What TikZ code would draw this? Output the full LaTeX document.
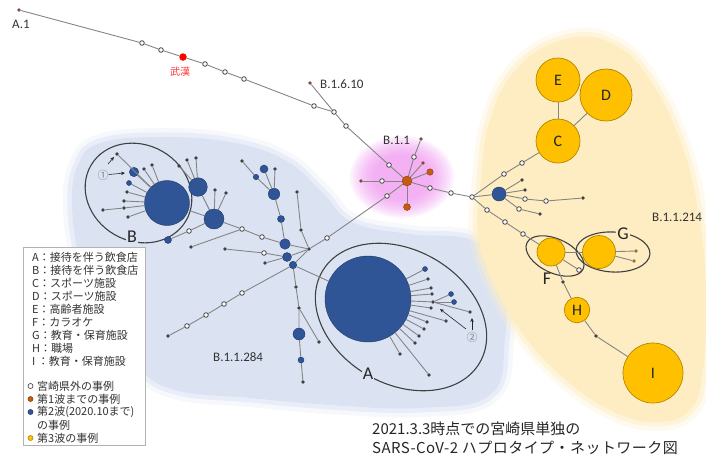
\documentclass[tikz,border=0pt]{standalone}
\usepackage{fontspec}
\setmainfont{Carlito}
\newfontfamily\jpf{Noto Sans CJK JP}
\newfontfamily\latf{Carlito}
\usetikzlibrary{arrows.meta}
\definecolor{navy}{HTML}{2F5597}
\definecolor{navyd}{HTML}{203864}
\definecolor{gold}{HTML}{FFC000}
\definecolor{goldd}{HTML}{B08600}
\definecolor{rust}{HTML}{C55A11}
\definecolor{edgec}{HTML}{858585}
\definecolor{dotc}{HTML}{404040}
\definecolor{brownc}{HTML}{7A4F3F}
\definecolor{oliv}{HTML}{857540}
\definecolor{bblob}{HTML}{DBE3F3}
\definecolor{yblob}{HTML}{FEEDC2}
\definecolor{pblob}{HTML}{EE8CEE}
\definecolor{labc}{HTML}{333333}
\tikzset{
 lnk/.style={draw=edgec, line width=0.9pt},
 sdot/.style={circle, fill=dotc, inner sep=0, minimum size=3.6pt},
 brdot/.style={circle, fill=brownc, inner sep=0, minimum size=3.8pt},
 oldot/.style={circle, fill=oliv, inner sep=0, minimum size=3.6pt},
 wdot/.style={circle, draw=dotc, fill=white, line width=0.8pt, inner sep=0, minimum size=4.6pt},
 bdot/.style={circle, fill=navy, draw=navyd, line width=0.4pt, inner sep=0, minimum size=#1},
 ordot/.style={circle, fill=rust, draw=rust!70!black, line width=0.4pt, inner sep=0, minimum size=#1},
 ydot/.style={circle, fill=gold, draw=goldd, line width=0.7pt, inner sep=0, minimum size=#1, font=\latf\fontsize{16}{16}\selectfont, text=black!85},
 grploop/.style={draw=black!75, line width=1.1pt},
 grplab/.style={font=\latf\fontsize{18}{20}\selectfont, text=black!85, inner sep=1pt},
 linlab/.style={font=\latf\fontsize{13}{15}\selectfont, text=labc, inner sep=0},
 legt/.style={font=\jpf\fontsize{11}{13}\selectfont, text=black!80, anchor=west, inner sep=0},
 capt/.style={font=\jpf\fontsize{15}{19}\selectfont, text=black!85, anchor=west, inner sep=0},
 legm/.style={circle, inner sep=0, minimum size=5pt, line width=0.6pt},
 pointer/.style={-{Stealth[length=4pt,width=3.5pt]}, draw=black!85, line width=0.6pt},
 circnum/.style={font=\jpf\fontsize{11}{11}\selectfont, text=black!50, inner sep=0},
}
\begin{document}
\begin{tikzpicture}[x=1pt,y=-1pt]
\useasboundingbox (0,0) rectangle (706,456);
% ---------- background blobs ----------
\fill[bblob, preaction={draw=bblob, line width=18pt, opacity=.25, line join=round},
 preaction={draw=bblob, line width=9pt, opacity=.5, line join=round}]
 plot[smooth cycle, tension=0.7] coordinates {(78,165) (100,143) (160,137) (230,142) (285,160) (322,192) (352,222) (410,234) (472,240) (503,272) (505,340) (490,395) (420,408) (330,405) (250,398) (175,390) (135,365) (100,320) (80,262) (72,205)};
\fill[yblob, preaction={draw=yblob, line width=18pt, opacity=.25, line join=round},
 preaction={draw=yblob, line width=9pt, opacity=.5, line join=round}]
 plot[smooth cycle, tension=0.7] coordinates {(480,190) (490,120) (520,65) (570,38) (615,45) (650,80) (680,140) (698,210) (706,290) (703,370) (690,410) (655,422) (610,410) (560,375) (520,330) (492,280) (478,235)};
\foreach \s in {1,0.95,0.9,0.85,0.8,0.75,0.7,0.65,0.6,0.55}
 \fill[pblob, opacity=0.11] (402,177) ellipse ({\s*52pt} and {\s*41pt});
% ---------- group loops ----------
\draw[grploop, rotate around={-30:(138.5,193)}] (138.5,193) ellipse (55pt and 48pt);
\draw[grploop, rotate around={-30:(401,317)}] (401,317) ellipse (91pt and 67pt);
\draw[grploop, rotate around={-25:(555,256)}] (555,256) ellipse (31pt and 17pt);
\draw[grploop, rotate around={-3:(613,252)}] (613,252) ellipse (37pt and 20pt);
% ---------- trunk ----------
\node[brdot] (a1) at (19,10) {};
\node[wdot] (m1) at (142,43) {};
\node[wdot] (m2) at (161,50) {};
\node[circle, fill=red, inner sep=0, minimum size=7.5pt] (wuhan) at (183,57) {};
\node[wdot] (m3) at (205,64) {};
\node[wdot] (m4) at (225,72) {};
\node[wdot] (m5) at (244,79) {};
\node[wdot] (m6) at (314,106) {};
\node[wdot] (j1) at (334,112) {};
\node[brdot] (b1610) at (310,83) {};
\node[wdot] (m7) at (346,126) {};
\node[wdot] (m8) at (389,165) {};
% ---------- B.1.1 hub ----------
\node[ordot=10pt] (hub) at (407,181) {};
\node[brdot] (s1) at (421,139) {};
\node[wdot] (s2) at (414,157) {};
\node[brdot] (s3) at (423,163) {};
\node[ordot=6.5pt] (s4) at (430,172) {};
\node[wdot] (s5) at (382,181) {};
\node[brdot] (s6) at (361,181) {};
\node[ordot=7pt] (s7) at (407,207) {};
\node[wdot] (p2) at (387,196) {};
\node[wdot] (p1) at (327,238) {};
\node[wdot] (hr1) at (430,188) {};
\node[wdot] (hr2) at (451,193) {};
\node[wdot] (j2) at (472,197) {};
% ---------- B.1.1.214 ----------
\node[wdot] (u1) at (504,174) {};
\node[wdot] (u2) at (522,163) {};
\node[ydot=44pt] (C) at (558,141) {C};
\node[ydot=44pt] (E) at (558,80) {E};
\node[ydot=52pt] (D) at (606,95) {D};
\node[bdot=14pt] (bY) at (499,194) {};
\node[sdot] (y1) at (522,180) {};
\node[sdot] (y2) at (525,190) {};
\node[wdot] (y3) at (525,199) {};
\node[wdot] (y4) at (546,201) {};
\node[sdot] (y5) at (583,198) {};
\node[wdot] (y6) at (519,209) {};
\node[sdot] (y7) at (540,214) {};
\node[wdot] (d1) at (487,210) {};
\node[wdot] (d2) at (505,222) {};
\node[wdot] (d3) at (523,234) {};
\node[ydot=28pt] (F) at (551,252) {};
\node[ydot=33pt] (G) at (599,252) {};
\node[oldot] (g1) at (636,251) {};
\node[oldot] (g2) at (634,261) {};
\node[wdot] (f2) at (579,270) {};
\node[sdot] (f1) at (563,282) {};
\node[ydot=25.5pt] (H) at (577,310) {H};
\node[sdot] (hi) at (596,336) {};
\node[ydot=60pt] (I) at (653,373) {I};
% ---------- B.1.1.284 ----------
\node[sdot] (jB) at (309,249) {};
\node[bdot=10.5pt] (n1) at (285,244) {};
\node[bdot=9pt] (n2) at (287,257) {};
\node[bdot=7.5pt] (n3) at (293,265) {};
\node[sdot] (q1) at (301,230) {};
\node[sdot] (q2) at (297,192) {};
\node[bdot=7pt] (c1) at (281,219) {};
\node[bdot=11.5pt] (c2) at (274,194) {};
\node[bdot=5.5pt] (c3) at (256,177) {};
\node[sdot] (c4) at (242,161) {};
\node[bdot=8pt] (c5) at (264,169) {};
\node[sdot] (c6) at (275,169) {};
\node[wdot] (r1) at (262,237) {};
\node[wdot] (r2) at (242,229) {};
\node[sdot] (r3) at (191,247) {};
\node[wdot] (t1) at (264,253) {};
\node[sdot] (t2) at (225,249) {};
\node[sdot] (t3) at (265,263) {};
\node[wdot] (w1) at (242,293) {};
\node[wdot] (w2) at (224,304) {};
\node[wdot] (w3) at (206,315) {};
\node[wdot] (w4) at (187,326) {};
\node[sdot] (w5) at (168,336) {};
\node[sdot] (v1) at (296,287) {};
\node[sdot] (v2) at (299,308) {};
\node[bdot=12pt] (v3) at (299,334) {};
\node[bdot=6pt] (v4) at (301,360) {};
\node[sdot] (v5) at (303,382) {};
\node[sdot] (v6) at (319,342) {};
% B cluster
\node[bdot=45pt] (B) at (167,203) {};
\node[bdot=18.6pt] (B2) at (198,187) {};
\node[bdot=20pt] (B3) at (214,219) {};
\node[sdot] (k1) at (179,166) {};
\node[sdot] (k2) at (187,160) {};
\node[sdot] (k3) at (196,158) {};
\node[sdot] (k4) at (215,190) {};
\node[sdot] (k5) at (226,193) {};
\node[wdot] (k6) at (189,231) {};
\node[bdot=7pt] (k7) at (168,240) {};
\node[sdot] (e1) at (117,154) {};
\node[bdot=9.4pt] (e2) at (134,172) {};
\node[bdot=5pt] (e3) at (129,183) {};
\node[sdot] (e4) at (144,169) {};
\node[sdot] (e5) at (152,165) {};
\node[sdot] (e6) at (127,192) {};
\node[sdot] (e7) at (124,201) {};
\node[sdot] (e8) at (124,208) {};
\node[sdot] (e9) at (103,210) {};
\node[sdot] (e10) at (128,217) {};
% A cluster
\node[bdot=86pt] (A) at (368,299) {};
\node[bdot=5pt] (aa1) at (425,269) {};
\node[sdot] (aa2) at (428,279) {};
\node[sdot] (aa3) at (431,288) {};
\node[sdot] (aa4) at (432,294) {};
\node[sdot] (aa5) at (433,302) {};
\node[bdot=5pt] (aa5b) at (451,294) {};
\node[bdot=5pt] (aa5c) at (454,302) {};
\node[sdot] (aa5d) at (470,312) {};
\node[sdot] (aa6) at (431,308) {};
\node[sdot] (aa7) at (446,321) {};
\node[sdot] (aa8) at (427,322) {};
\node[sdot] (aa9) at (424,329) {};
\node[sdot] (aa10) at (419,336) {};
\node[sdot] (aa11) at (415,343) {};
\node[sdot] (aa12) at (400,354) {};
\node[sdot] (aa13) at (429,375) {};
% ---------- connectors ----------
\draw[lnk] (a1) -- (m1) -- (m2) -- (wuhan) -- (m3) -- (m4) -- (m5) -- (m6) -- (j1);
\draw[lnk] (b1610) -- (j1);
\draw[lnk] (j1) -- (m7) -- (m8) -- (hub);
\draw[lnk] (hub) -- (s2) -- (s1);
\draw[lnk] (hub) -- (s3);
\draw[lnk] (hub) -- (s4);
\draw[lnk] (hub) -- (s5) -- (s6);
\draw[lnk] (hub) -- (s7);
\draw[lnk] (hub) -- (p2) -- (p1) -- (jB);
\draw[lnk] (hub) -- (hr1) -- (hr2) -- (j2);
\draw[lnk] (j2) -- (u1) -- (u2) -- (C);
\draw[lnk] (C) -- (E);
\draw[lnk] (C) -- (D);
\draw[lnk] (j2) -- (bY);
\draw[lnk] (bY) -- (y1);
\draw[lnk] (bY) -- (y2);
\draw[lnk] (bY) -- (y3) -- (y4) -- (y5);
\draw[lnk] (bY) -- (y6) -- (y7);
\draw[lnk] (j2) -- (d1) -- (d2) -- (d3) -- (F);
\draw[lnk] (F) -- (G);
\draw[lnk] (G) -- (g1);
\draw[lnk] (G) -- (g2);
\draw[lnk] (F) -- (f2);
\draw[lnk] (F) -- (f1) -- (H) -- (hi) -- (I);
\draw[lnk] (jB) -- (n1);
\draw[lnk] (jB) -- (n2);
\draw[lnk] (jB) -- (n3);
\draw[lnk] (jB) -- (q1) -- (q2);
\draw[lnk] (n1) -- (c1) -- (c2) -- (c3) -- (c4);
\draw[lnk] (c2) -- (c5);
\draw[lnk] (c2) -- (c6);
\draw[lnk] (n1) -- (r1) -- (r2) -- (B3);
\draw[lnk] (r2) -- (r3);
\draw[lnk] (n2) -- (t1) -- (t2);
\draw[lnk] (n2) -- (t3);
\draw[lnk] (n3) -- (w1) -- (w2) -- (w3) -- (w4) -- (w5);
\draw[lnk] (n3) -- (v1) -- (v2) -- (v3) -- (v4) -- (v5);
\draw[lnk] (v2) -- (v6);
\draw[lnk] (n3) -- (A);
\draw[lnk] (B) -- (B3);
\draw[lnk] (B2) -- (B3);
\foreach \k in {k1,k2,k3} \draw[lnk] (B2) -- (\k);
\draw[lnk] (B3) -- (k4);
\draw[lnk] (B3) -- (k5);
\draw[lnk] (B3) -- (k6) -- (k7);
\foreach \k in {e1,e2,e3,e4,e5,e6,e7,e8,e10} \draw[lnk] (B) -- (\k);
\draw[lnk] (e8) -- (e9);
\foreach \k in {aa1,aa2,aa3,aa4,aa5,aa6,aa7,aa8,aa9,aa10,aa11,aa12,aa13} \draw[lnk] (A) -- (\k);
\draw[lnk] (aa5) -- (aa5b);
\draw[lnk] (aa5) -- (aa5c);
\draw[lnk] (aa5) -- (aa5d);
% ---------- pointers ----------
\node[circnum] (one) at (103,175) {①};
\coordinate (one1) at (125,173);
\coordinate (one2a) at (108,164);
\coordinate (one2b) at (114,157);
\draw[pointer] (one) -- (one1);
\draw[pointer] (one2a) -- (one2b);
\node[circnum] (two) at (472,337) {②};
\coordinate (two1) at (440,309);
\coordinate (two2a) at (472,330);
\coordinate (two2b) at (472,318);
\coordinate (two1a) at (466,329);
\draw[pointer] (two1a) -- (two1);
\draw[pointer] (two2a) -- (two2b);
% ---------- labels ----------
\node[font=\jpf\fontsize{10}{10}\selectfont, text=red!80, inner sep=0] (wlab) at (180,72) {武漢};
\node[linlab, anchor=west] (la1) at (12,24) {A.1};
\node[linlab, anchor=west] (lb1610) at (320,84) {B.1.6.10};
\node[linlab, anchor=west] (lb11) at (383,140) {B.1.1};
\node[linlab, anchor=west] (lb214) at (652,217) {B.1.1.214};
\node[linlab, anchor=west] (lb284) at (213,357) {B.1.1.284};
\node[grplab, fill=bblob] (labA) at (368,374) {A};
\node[grplab, fill=bblob] (labB) at (132,237) {B};
\node[grplab] (labF) at (547,279) {F};
\node[grplab, fill=yblob] (labG) at (623,234) {G};
% ---------- legend ----------
\node[draw=black!30, fill=white, line width=0.6pt, anchor=north west, minimum width=122pt, minimum height=198pt, inner sep=0] (legend) at (23,247) {};
\node[legt] (l1) at (32,257) {A：接待を伴う飲食店};
\node[legt] (l2) at (32,270) {B：接待を伴う飲食店};
\node[legt] (l3) at (32,283) {C：スポーツ施設};
\node[legt] (l4) at (32,296) {D：スポーツ施設};
\node[legt] (l5) at (32,309) {E：高齢者施設};
\node[legt] (l6) at (32,322) {F：カラオケ};
\node[legt] (l7) at (32,335) {G：教育・保育施設};
\node[legt] (l8) at (32,348) {H：職場};
\node[legt] (l9) at (32,361) {I ：教育・保育施設};
\node[legm, draw=black!80, fill=white] (mk1) at (30.5,386) {};
\node[legt] (t1l) at (37,386) {宮崎県外の事例};
\node[legm, draw=rust!70!black, fill=rust] (mk2) at (30.5,399) {};
\node[legt] (t2l) at (37,399) {第1波までの事例};
\node[legm, draw=navyd, fill=navy] (mk3) at (30.5,412) {};
\node[legt] (t3l) at (37,412) {第2波(2020.10まで)};
\node[legt] (t3m) at (37,425) {の事例};
\node[legm, draw=goldd, fill=gold] (mk4) at (30.5,438) {};
\node[legt] (t4l) at (37,438) {第3波の事例};
% ---------- caption ----------
\node[capt] (cap1) at (372,429) {2021.3.3時点での宮崎県単独の};
\node[capt] (cap2) at (372,448) {\addfontfeature{LetterSpace=3}SARS-CoV-2 ハプロタイプ・ネットワーク図};
\end{tikzpicture}
\end{document}
